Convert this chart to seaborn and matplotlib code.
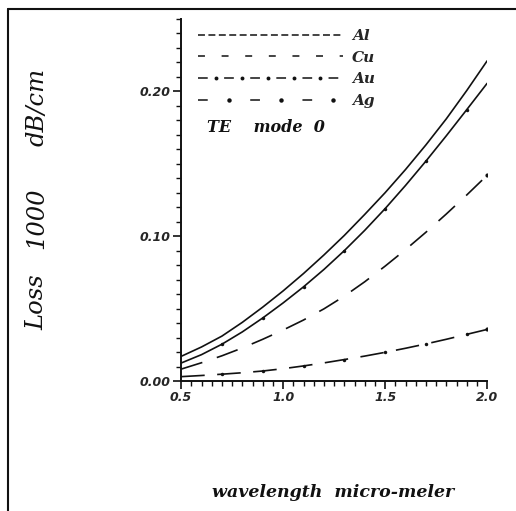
import matplotlib
matplotlib.use('Agg')
import matplotlib.pyplot as plt
from matplotlib.lines import Line2D
from matplotlib.legend_handler import HandlerLine2D
from matplotlib.ticker import MultipleLocator, FixedLocator
import numpy as np
import pandas as pd
import seaborn as sns

# wavelength (micro-meter) and loss values
wavelength = [0.5, 0.6, 0.7, 0.8, 0.9, 1.0, 1.1, 1.2, 1.3, 1.4, 1.5, 1.6, 1.7, 1.8, 1.9, 2.0]
loss_al = [0.017, 0.0235, 0.031, 0.0405, 0.051, 0.0622, 0.0742, 0.087, 0.1005, 0.115,
           0.130, 0.146, 0.163, 0.181, 0.2005, 0.221]
loss_au = [0.0124, 0.0182, 0.0254, 0.0339, 0.0435, 0.0539, 0.065, 0.077, 0.090, 0.104,
           0.119, 0.135, 0.1518, 0.1693, 0.1873, 0.2055]
loss_cu = [0.0082, 0.0126, 0.0174, 0.0228, 0.0288, 0.0352, 0.0421, 0.0498, 0.0586, 0.0685,
           0.0793, 0.0907, 0.1027, 0.1153, 0.1284, 0.142]
loss_ag = [0.003, 0.0038, 0.0047, 0.0057, 0.0069, 0.0085, 0.0104, 0.0125, 0.0148, 0.0172,
           0.0198, 0.0226, 0.0256, 0.0288, 0.0322, 0.0356]

legend_labels = ['Al', 'Cu', 'Au', 'Ag']
x_ticks = [0.5, 1.0, 1.5, 2.0]
x_ticklabels = ['0.5', '1.0', '1.5', '2.0']
y_ticks = [0.0, 0.1, 0.2]
y_ticklabels = ['0.00', '0.10', '0.20']

df = pd.DataFrame({'wavelength': wavelength, 'Al': loss_al, 'Au': loss_au,
                   'Cu': loss_cu, 'Ag': loss_ag})


class HandlerDots(HandlerLine2D):
    # legend key with dots at chosen fractions of the key length
    def __init__(self, fracs, **kw):
        super().__init__(**kw)
        self.fracs = np.asarray(fracs)

    def create_artists(self, legend, orig_handle, xdescent, ydescent, width, height,
                       fontsize, trans):
        arts = super().create_artists(legend, orig_handle, xdescent, ydescent,
                                      width, height, fontsize, trans)
        x0 = -xdescent
        xs = np.concatenate([[x0], x0 + width * self.fracs, [x0 + width]])
        ys = np.full_like(xs, (height - ydescent) / 2)
        for art in arts:
            art.set_data(xs, ys)
            art.set_markevery(list(range(1, len(xs) - 1)))
        return arts


sns.set_style('ticks')
plt.rcParams['lines.scale_dashes'] = False
plt.rcParams['font.family'] = ['DejaVu Serif', 'DejaVu Sans']

fig = plt.figure(figsize=(5.16, 5.11), dpi=100)
ax = fig.add_axes([0.351, 0.2544, 0.593, 0.7086])

ink = '#111111'
lw = 1.2

# Al: fine dashes that print as a solid line
sns.lineplot(data=df, x='wavelength', y='Al', ax=ax, color=ink, lw=lw)
# Au: solid-looking with dots
sns.lineplot(data=df, x='wavelength', y='Au', ax=ax, color=ink, lw=lw,
             marker='o', markersize=2.5, markevery=slice(2, 15, 2), markeredgewidth=0)
# Cu: long dashes
sns.lineplot(data=df, x='wavelength', y='Cu', ax=ax, color=ink, lw=lw)
ax.lines[-1].set_dashes((16, 11))
# Ag: dashes with dots
sns.lineplot(data=df, x='wavelength', y='Ag', ax=ax, color=ink, lw=lw,
             marker='o', markersize=2.5, markevery=slice(2, 15, 2), markeredgewidth=0)
ax.lines[-1].set_dashes((17, 9))

# end dots of the dashed curves
ax.plot(df['wavelength'].iloc[-1:], df['Cu'].iloc[-1:], 'o', ms=2, color=ink)
ax.plot(df['wavelength'].iloc[-1:], df['Ag'].iloc[-1:], 'o', ms=2, color=ink)

ax.set_xlim(0.5, 2.0)
ax.set_ylim(0.0, 0.25)
ax.xaxis.set_major_locator(FixedLocator(x_ticks))
ax.xaxis.set_minor_locator(MultipleLocator(0.05))
ax.yaxis.set_major_locator(FixedLocator(y_ticks))
ax.yaxis.set_minor_locator(MultipleLocator(0.01))
tick_font = dict(family='DejaVu Sans', weight='bold', style='italic', size=9)
ax.set_xticklabels(x_ticklabels, **tick_font)
ax.set_yticklabels(y_ticklabels, **tick_font)
ax.tick_params(which='major', direction='out', length=5.5, width=1.2, color=ink, pad=2)
ax.tick_params(which='minor', direction='out', length=3.5, width=1.0, color=ink)
for side in ['top', 'right']:
    ax.spines[side].set_visible(False)
for side in ['left', 'bottom']:
    ax.spines[side].set_linewidth(1.4)
    ax.spines[side].set_color(ink)

ax.set_xlabel('')
ax.set_ylabel('')
# y label, word by word as spaced in the scan
for word, ypos in [('Loss', 0.409), ('1000', 0.573), ('dB/cm', 0.79)]:
    fig.text(0.072, ypos, word, rotation=90, ha='center', va='center',
             style='italic', size=17.5, color=ink)
fig.text(0.645, 0.037, 'wavelength  micro-meler', ha='center', va='center',
         style='italic', weight='bold', size=12.5, color=ink)

# legend keys in the style of the original figure
h_al = Line2D([], [], color=ink, lw=1.1, dashes=(5, 2.5))
h_cu = Line2D([], [], color=ink, lw=1.1, dashes=(5, 12))
h_au = Line2D([], [], color=ink, lw=1.1, dashes=(7, 11.8), marker='o', ms=2.8,
              markeredgewidth=0)
h_ag = Line2D([], [], color=ink, lw=1.1, dashes=(7, 30.6), marker='o', ms=3.2,
              markeredgewidth=0)
leg = ax.legend([h_al, h_cu, h_au, h_ag], legend_labels, loc='upper left',
                bbox_to_anchor=(0.01, 1.01), frameon=False, handlelength=9.5,
                handletextpad=0.6, labelspacing=0.5,
                handler_map={h_au: HandlerDots([0.123, 0.303, 0.483, 0.663, 0.843]),
                             h_ag: HandlerDots([0.213, 0.573, 0.933])},
                prop=dict(family='DejaVu Serif', style='italic', weight='bold', size=11))
ax.text(0.085, 0.70, 'TE    mode  0', transform=ax.transAxes, style='italic',
        weight='bold', size=11.5, color=ink, va='center')

# scanned page frame
fig.add_artist(Line2D([0.016, 0.016], [0.0, 0.982], color=ink, lw=1.5))
fig.add_artist(Line2D([0.016, 1.0], [0.982, 0.982], color=ink, lw=1.5))

fig.savefig('out.png', dpi=100, facecolor='white')
